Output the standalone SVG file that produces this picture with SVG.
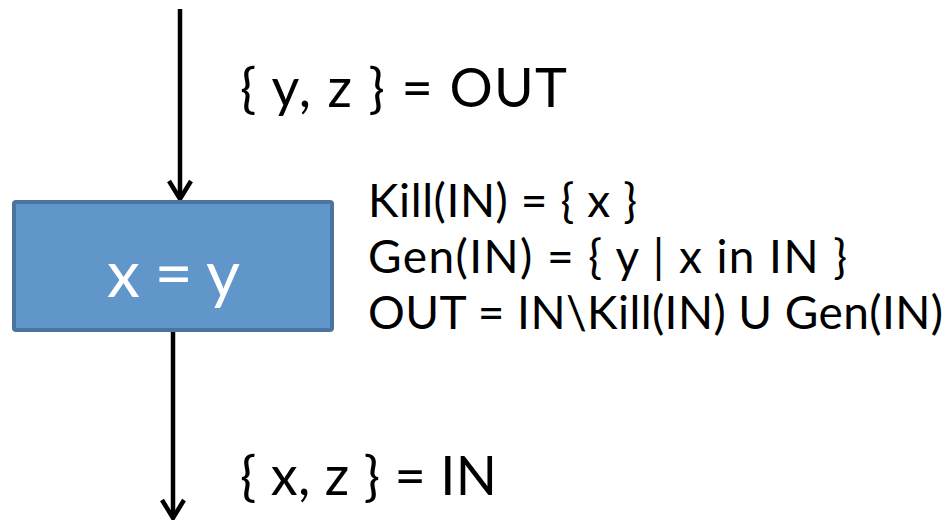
<svg xmlns="http://www.w3.org/2000/svg" width="947" height="520" viewBox="0 0 947 520">
<defs>
<style>
.t{font-family:Lato,"Open Sans","Liberation Sans",sans-serif;fill:#000}
.c{stroke:#000;stroke-width:4.5;fill:none}
</style>
<marker id="ah" markerUnits="userSpaceOnUse" markerWidth="30" markerHeight="30" refX="24" refY="12" orient="auto" viewBox="0 0 30 24">
<path d="M6,1 L24,12 L6,23" fill="none" stroke="#000" stroke-width="4.5" stroke-linejoin="miter"/>
</marker>
</defs>
<rect width="947" height="520" fill="#fff"/>
<g id="connectors">
<line class="c" x1="180" y1="9" x2="180" y2="199" marker-end="url(#ah)"/>
<line class="c" x1="173" y1="332" x2="173" y2="518" marker-end="url(#ah)"/>
</g>
<g id="node-assign">
<rect x="14" y="202" width="318" height="128" rx="2" fill="#6096c9" stroke="#4a75a1" stroke-width="4"/>
<text class="t" x="107" y="297" font-size="66" textLength="133" lengthAdjust="spacing" style="fill:#fff">x = y</text>
</g>
<g id="label-out">
<text class="t" x="240" y="107" font-size="54" textLength="327" lengthAdjust="spacing">{ y, z } = OUT</text>
</g>
<g id="label-in">
<text class="t" x="240" y="495" font-size="54" textLength="257" lengthAdjust="spacing">{ x, z } = IN</text>
</g>
<g id="equations">
<text class="t" x="368" y="217" font-size="46" textLength="269" lengthAdjust="spacing">Kill(IN) = { x }</text>
<text class="t" x="368" y="273" font-size="46" textLength="479" lengthAdjust="spacing">Gen(IN) = { y | x in IN }</text>
<text class="t" x="368" y="329" font-size="46" textLength="575" lengthAdjust="spacing">OUT = IN\Kill(IN) U Gen(IN)</text>
</g>
</svg>
